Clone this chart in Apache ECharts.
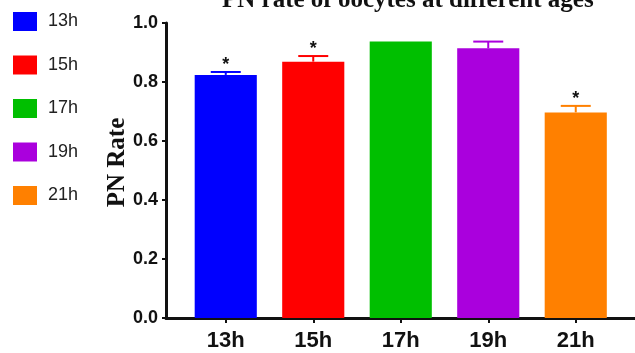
<!DOCTYPE html>
<html>
<head>
<meta charset="utf-8">
<script src="https://cdn.jsdelivr.net/npm/echarts@6/dist/echarts.min.js"></script>
<style>
  html, body { margin: 0; padding: 0; background: #fff; }
  #chart { width: 635px; height: 353px; }
</style>
</head>
<body>
<div id="chart"></div>
<script>
// Oocyte age groups and their PN rates (mean and SEM)
const categories = ['13h', '15h', '17h', '19h', '21h'];
const meanRates = [0.824, 0.869, 0.937, 0.914, 0.697];
const semRates = [0.010, 0.019, 0.000, 0.023, 0.022];
const significant = [true, true, false, false, true];
const barColors = ['#0000FF', '#FF0000', '#00BF00', '#AA00DD', '#FF8000'];
const yTickValues = [0, 0.2, 0.4, 0.6, 0.8, 1.0];

const chart = echarts.init(document.getElementById('chart'), null, { renderer: 'canvas' });

const sansBold = { fontFamily: 'Liberation Sans, Arial, sans-serif', fontWeight: 'bold', color: '#111' };

// one bar series per age group so each gets its own legend entry
const barSeries = categories.map((name, i) => ({
  type: 'bar',
  name: name,
  xAxisIndex: 0,
  yAxisIndex: 0,
  barWidth: '71%',
  barGap: '-100%',
  itemStyle: { color: barColors[i] },
  emphasis: { disabled: true },
  data: categories.map((_, j) => (j === i ? meanRates[i] : '-'))
}));

// upper error bars and significance stars
const errorSeries = {
  type: 'custom',
  xAxisIndex: 0,
  yAxisIndex: 0,
  silent: true,
  z: 5,
  data: categories.map((_, i) => [i, meanRates[i], semRates[i], significant[i] ? 1 : 0]),
  renderItem: function (params, api) {
    const idx = api.value(0);
    const mean = api.value(1);
    const sem = api.value(2);
    const color = barColors[params.dataIndex];
    const top = api.coord([idx, mean]);
    const cap = api.coord([idx, mean + sem]);
    const half = 15;
    const children = [];
    if (sem > 0) {
      children.push({
        type: 'line',
        shape: { x1: top[0], y1: top[1], x2: cap[0], y2: cap[1] },
        style: { stroke: color, lineWidth: 2 }
      });
      children.push({
        type: 'line',
        shape: { x1: cap[0] - half, y1: cap[1], x2: cap[0] + half, y2: cap[1] },
        style: { stroke: color, lineWidth: 2 }
      });
    }
    if (api.value(3) === 1) {
      children.push({
        type: 'text',
        style: {
          text: '*',
          x: cap[0],
          y: cap[1] - 7,
          align: 'center',
          verticalAlign: 'middle',
          font: 'bold 18px "Liberation Sans", Arial, sans-serif',
          fill: '#111'
        }
      });
    }
    return { type: 'group', children: children };
  }
};

const option = {
  animation: false,
  backgroundColor: '#fff',
  title: {
    text: 'PN rate of oocytes at different ages',
    left: 222,
    top: -12,
    padding: 0,
    textStyle: {
      fontFamily: 'Liberation Serif, Times New Roman, serif',
      fontWeight: 'bold',
      fontSize: 25,
      color: '#111'
    }
  },
  legend: {
    orient: 'vertical',
    left: 13,
    top: 12,
    padding: 0,
    icon: 'rect',
    itemWidth: 24,
    itemHeight: 19,
    itemGap: 24.5,
    selectedMode: false,
    data: categories,
    textStyle: {
      fontFamily: 'Liberation Sans, Arial, sans-serif',
      fontSize: 18,
      color: '#222',
      padding: [0, 0, 0, 6]
    }
  },
  grid: [
    { left: 182, right: 15.5, top: 23, bottom: 35 },
    { left: 166, right: 0, top: 23, bottom: 35 }
  ],
  xAxis: [
    {
      type: 'category',
      gridIndex: 0,
      data: categories,
      axisLine: { show: false },
      axisTick: { show: true, alignWithLabel: true, length: 5, lineStyle: { color: '#111', width: 2 } },
      axisLabel: Object.assign({ fontSize: 22, margin: 12 }, sansBold)
    },
    {
      type: 'value',
      gridIndex: 1,
      min: 0,
      max: 1,
      axisLine: { show: true, onZero: false, lineStyle: { color: '#111', width: 3 } },
      axisTick: { show: false },
      axisLabel: { show: false },
      splitLine: { show: false }
    }
  ],
  yAxis: [
    {
      type: 'value',
      gridIndex: 0,
      min: 0,
      max: 1,
      show: false
    },
    {
      type: 'value',
      gridIndex: 1,
      min: yTickValues[0],
      max: yTickValues[yTickValues.length - 1],
      interval: 0.2,
      name: 'PN Rate',
      nameLocation: 'middle',
      nameGap: 36,
      nameMoveOverlap: false,
      nameTextStyle: {
        fontFamily: 'Liberation Serif, Times New Roman, serif',
        fontWeight: 'bold',
        fontSize: 25,
        color: '#111',
        padding: [0, 0, 0, 16]
      },
      axisLine: { show: true, lineStyle: { color: '#111', width: 3 } },
      axisTick: { show: true, length: 4, lineStyle: { color: '#111', width: 2 } },
      axisLabel: Object.assign({ fontSize: 18, margin: 8, formatter: v => v.toFixed(1) }, sansBold),
      splitLine: { show: false }
    }
  ],
  series: barSeries.concat([errorSeries])
};

chart.setOption(option);
</script>
</body>
</html>
